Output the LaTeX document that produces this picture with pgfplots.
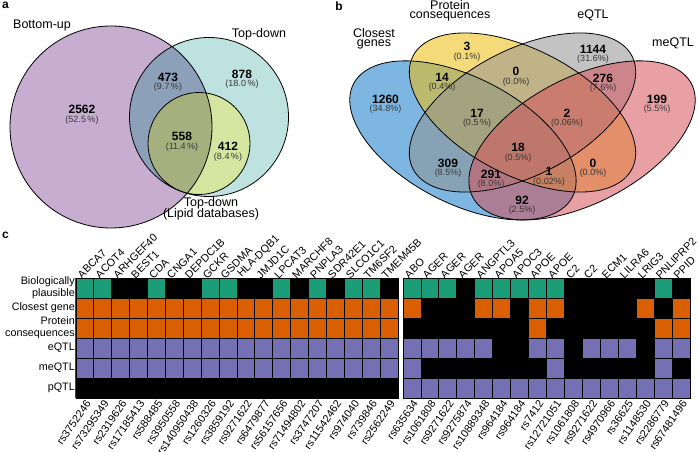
\documentclass[border=0pt]{standalone}
\usepackage{fontspec}
\setmainfont{Liberation Sans}
\usepackage{pgfplots}
\pgfplotsset{compat=1.18}
\definecolor{vpurple}{RGB}{199,173,207}
\definecolor{vteal}{RGB}{190,226,224}
\definecolor{vpt}{RGB}{140,160,186}
\definecolor{vlipid}{RGB}{213,230,160}
\definecolor{volive}{RGB}{166,176,126}
\definecolor{vblue}{RGB}{19,122,199}
\definecolor{vyellow}{RGB}{237,188,13}
\definecolor{vgray}{RGB}{146,146,146}
\definecolor{vred}{RGB}{213,82,91}
\definecolor{pcttext}{RGB}{55,55,55}
\definecolor{hmgreen}{RGB}{27,158,119}
\definecolor{hmorange}{RGB}{217,95,2}
\definecolor{hmpurple}{RGB}{117,112,179}
\newcommand\lblfont{\fontsize{12.5}{14}\selectfont}
\newcommand\numfont{\bfseries\fontsize{12}{13}\selectfont}
\newcommand\pctfont{\fontsize{9}{10}\selectfont}
\newcommand\hmfont{\fontsize{10.8}{12}\selectfont}
\newcommand\vn[4]{\node[font=\numfont] at (#1,#2) {#3};\node[font=\pctfont,text=pcttext] at (#1,#2-10.5) {(#4)};}
\newcommand\vb[4]{\node[font=\numfont] at (#1,#2) {#3};\node[font=\pctfont,text=pcttext] at (#1,#2-10.3) {(#4)};}
\begin{document}
\begin{tikzpicture}[x=1pt,y=1pt]
\path[use as bounding box] (0,0) rectangle (699,452);
% ---------------- Venn a
\fill[vpurple] (111,325) circle (101pt);
\fill[vteal] (209,335) circle (79.5pt);
\begin{scope}
\clip (111,325) circle (101pt);
\fill[vpt] (209,335) circle (79.5pt);
\end{scope}
\fill[vlipid] (199,308.5) circle (51pt);
\begin{scope}
\clip (111,325) circle (101pt);
\fill[volive] (199,308.5) circle (51pt);
\end{scope}
\draw[line width=0.8pt] (111,325) circle (101pt) (209,335) circle (79.5pt) (199,308.5) circle (51pt);
\node[font=\bfseries\fontsize{12}{13}\selectfont, anchor=north west, inner sep=0pt] at (2,450) {a};
\node[font=\lblfont] at (42,426) {Bottom-up};
\node[font=\lblfont] at (259,417.5) {Top-down};
\node[font=\lblfont] at (211,248.7) {Top-down};
\node[font=\lblfont] at (211,237.7) {(Lipid databases)};
\vn{168}{375}{473}{9.7\,\%}
\vn{242}{378}{878}{18.0\,\%}
\vn{82}{342.7}{2562}{52.5\,\%}
\vn{182}{315.3}{558}{11.4\,\%}
\vn{228}{305.3}{412}{8.4\,\%}
% ---------------- Venn b
\begin{scope}[fill opacity=0.55]
\fill[vblue, shift={(462.95,311.6)}, xscale=3.97, yscale=2.79, rotate=-45] (0,0) ellipse (35pt and 20pt);
\fill[vyellow, shift={(522.5,339.5)}, xscale=3.97, yscale=2.79, rotate=-45] (0,0) ellipse (35pt and 20pt);
\fill[vgray, shift={(522.5,339.5)}, xscale=3.97, yscale=2.79, rotate=45] (0,0) ellipse (35pt and 20pt);
\fill[vred, shift={(582.05,311.6)}, xscale=3.97, yscale=2.79, rotate=45] (0,0) ellipse (35pt and 20pt);
\end{scope}
\draw[line width=0.8pt, shift={(462.95,311.6)}, xscale=3.97, yscale=2.79, rotate=-45] (0,0) ellipse (35pt and 20pt);
\draw[line width=0.8pt, shift={(522.5,339.5)}, xscale=3.97, yscale=2.79, rotate=-45] (0,0) ellipse (35pt and 20pt);
\draw[line width=0.8pt, shift={(522.5,339.5)}, xscale=3.97, yscale=2.79, rotate=45] (0,0) ellipse (35pt and 20pt);
\draw[line width=0.8pt, shift={(582.05,311.6)}, xscale=3.97, yscale=2.79, rotate=45] (0,0) ellipse (35pt and 20pt);
\node[font=\bfseries\fontsize{12}{13}\selectfont] at (339,446) {b};
\node[font=\lblfont] at (374,419) {Closest};
\node[font=\lblfont] at (374,408) {genes};
\node[font=\lblfont] at (450,447) {Protein};
\node[font=\lblfont] at (450,436) {consequences};
\node[font=\lblfont] at (593,437) {eQTL};
\node[font=\lblfont] at (673,408.7) {meQTL};
\vb{467}{405.3}{3}{0.1\%}
\vb{593}{402.7}{1144}{31.6\%}
\vb{442}{374.7}{14}{0.4\%}
\vb{516}{380.3}{0}{0.0\%}
\vb{603}{373.7}{276}{7.6\%}
\vb{385.5}{352.7}{1260}{34.8\%}
\vb{657}{352.7}{199}{5.5\%}
\vb{477}{338.7}{17}{0.5\,\%}
\vb{567}{338.7}{2}{0.06\%}
\vb{518}{304.3}{18}{0.5\%}
\vb{448}{288.7}{309}{8.5\%}
\vb{491}{278}{291}{8.0\%}
\vb{549}{280.3}{1}{0.02\%}
\vb{593}{288.7}{0}{0.0\%}
\vb{522}{252}{92}{2.5\%}
% ---------------- c
\node[font=\bfseries\fontsize{12}{13}\selectfont, anchor=north west, inner sep=0pt] at (2,220) {c};
\pgfplotsset{
  hmbase/.style={
    at={(#1)}, anchor=south west, scale only axis, height=120pt,
    ymin=-0.5, ymax=5.5, y dir=reverse, enlargelimits=false,
    major tick length=0pt, minor tick length=0pt,
    tick label style={font=\hmfont},
  },
  hmgrid/.style={
    axis background/.style={fill=black},
    axis on top, axis line style={black!75, line width=1pt},
    xticklabel style={rotate=55, anchor=north east, inner sep=1pt},
  },
  hmtop/.style={
    xticklabel pos=upper, ytick=\empty, axis line style={draw=none},
    xticklabel style={rotate=45, anchor=south west, inner sep=1pt, xshift=-4pt},
  },
  hmcells/.style={
    scatter, only marks, scatter src=explicit symbolic,
    mark=square*, mark size=8.95pt,
    mark options={yscale=1.1173, line width=0.8pt},
    scatter/classes={
      0={mark=square*, fill=black, draw=black},
      1={mark=square*, fill=hmgreen, draw=black},
      2={mark=square*, fill=hmorange, draw=black},
      3={mark=square*, fill=hmpurple, draw=black}},
  },
}
% left block
\begin{axis}[hmbase={76pt,54pt}, hmgrid, width=322pt,
  xmin=-0.5, xmax=17.5,
  xtick={0,...,17},
  xticklabels={rs3752246,rs73295349,rs2319626,rs17185413,rs588485,rs3950558,rs140950438,rs1260326,rs3859192,rs9271622,rs6479877,rs56157656,rs71494802,rs3747207,rs11542462,rs974040,rs739846,rs2562249},
  ytick={0,...,5},
  yticklabels={{Biologically\\plausible},{Closest gene},{Protein\\consequences},eQTL,meQTL,pQTL},
  yticklabel style={align=right, inner sep=1pt},
  ]
\addplot[hmcells] table[meta=c, row sep=\\] {
x y c\\
0 0 1\\ 1 0 1\\ 2 0 0\\ 3 0 0\\ 4 0 1\\ 5 0 0\\ 6 0 0\\ 7 0 1\\ 8 0 1\\ 9 0 0\\ 10 0 0\\ 11 0 1\\ 12 0 0\\ 13 0 1\\ 14 0 0\\ 15 0 1\\ 16 0 1\\ 17 0 0\\
0 1 2\\ 1 1 2\\ 2 1 2\\ 3 1 2\\ 4 1 2\\ 5 1 2\\ 6 1 2\\ 7 1 2\\ 8 1 2\\ 9 1 2\\ 10 1 2\\ 11 1 2\\ 12 1 2\\ 13 1 2\\ 14 1 2\\ 15 1 2\\ 16 1 2\\ 17 1 2\\
0 2 2\\ 1 2 2\\ 2 2 2\\ 3 2 2\\ 4 2 2\\ 5 2 2\\ 6 2 2\\ 7 2 2\\ 8 2 2\\ 9 2 2\\ 10 2 2\\ 11 2 2\\ 12 2 2\\ 13 2 2\\ 14 2 2\\ 15 2 2\\ 16 2 2\\ 17 2 2\\
0 3 3\\ 1 3 3\\ 2 3 3\\ 3 3 3\\ 4 3 3\\ 5 3 3\\ 6 3 3\\ 7 3 3\\ 8 3 3\\ 9 3 3\\ 10 3 3\\ 11 3 3\\ 12 3 3\\ 13 3 3\\ 14 3 3\\ 15 3 3\\ 16 3 3\\ 17 3 3\\
0 4 3\\ 1 4 3\\ 2 4 3\\ 3 4 3\\ 4 4 3\\ 5 4 3\\ 6 4 3\\ 7 4 3\\ 8 4 3\\ 9 4 3\\ 10 4 3\\ 11 4 3\\ 12 4 3\\ 13 4 3\\ 14 4 3\\ 15 4 3\\ 16 4 3\\ 17 4 3\\
0 5 0\\ 1 5 0\\ 2 5 0\\ 3 5 0\\ 4 5 0\\ 5 5 0\\ 6 5 0\\ 7 5 0\\ 8 5 0\\ 9 5 0\\ 10 5 0\\ 11 5 0\\ 12 5 0\\ 13 5 0\\ 14 5 0\\ 15 5 0\\ 16 5 0\\ 17 5 0\\
};
\end{axis}
\begin{axis}[hmbase={76pt,54pt}, hmtop, width=322pt,
  xmin=-0.5, xmax=17.5,
  xtick={0,...,17},
  xticklabels={ABCA7,ACOT4,ARHGEF40,BEST1,CDA,CNGA1,DEPDC1B,GCKR,GSDMA,HLA-DQB1,JMJD1C,LPCAT3,MARCHF8,PNPLA3,SDR42E1,SLCO1C1,TM6SF2,TMEM45B},
  ]
\end{axis}
% right block
\begin{axis}[hmbase={403pt,54pt}, hmgrid, width=287pt,
  xmin=-0.5, xmax=15.5,
  xtick={0,...,15},
  xticklabels={rs635634,rs1061808,rs9271622,rs9275874,rs10889348,rs964184,rs964184,rs7412,rs12721051,rs1061808,rs9271622,rs4970966,rs36625,rs1148530,rs2286779,rs67481496},
  ytick=\empty,
  ]
\addplot[hmcells] table[meta=c, row sep=\\] {
x y c\\
0 0 1\\ 1 0 1\\ 2 0 1\\ 3 0 0\\ 4 0 1\\ 5 0 1\\ 6 0 1\\ 7 0 1\\ 8 0 1\\ 9 0 0\\ 10 0 0\\ 11 0 0\\ 12 0 0\\ 13 0 0\\ 14 0 1\\ 15 0 0\\
0 1 2\\ 1 1 0\\ 2 1 0\\ 3 1 0\\ 4 1 2\\ 5 1 2\\ 6 1 0\\ 7 1 2\\ 8 1 2\\ 9 1 0\\ 10 1 0\\ 11 1 0\\ 12 1 0\\ 13 1 2\\ 14 1 0\\ 15 1 2\\
0 2 0\\ 1 2 0\\ 2 2 0\\ 3 2 0\\ 4 2 0\\ 5 2 0\\ 6 2 0\\ 7 2 2\\ 8 2 0\\ 9 2 0\\ 10 2 0\\ 11 2 0\\ 12 2 0\\ 13 2 0\\ 14 2 2\\ 15 2 2\\
0 3 3\\ 1 3 3\\ 2 3 3\\ 3 3 3\\ 4 3 3\\ 5 3 0\\ 6 3 0\\ 7 3 3\\ 8 3 3\\ 9 3 0\\ 10 3 3\\ 11 3 3\\ 12 3 3\\ 13 3 0\\ 14 3 3\\ 15 3 3\\
0 4 3\\ 1 4 0\\ 2 4 0\\ 3 4 0\\ 4 4 0\\ 5 4 0\\ 6 4 0\\ 7 4 0\\ 8 4 3\\ 9 4 0\\ 10 4 0\\ 11 4 0\\ 12 4 0\\ 13 4 0\\ 14 4 3\\ 15 4 0\\
0 5 3\\ 1 5 3\\ 2 5 3\\ 3 5 3\\ 4 5 3\\ 5 5 3\\ 6 5 3\\ 7 5 3\\ 8 5 3\\ 9 5 3\\ 10 5 3\\ 11 5 3\\ 12 5 3\\ 13 5 3\\ 14 5 3\\ 15 5 3\\
};
\end{axis}
\begin{axis}[hmbase={403pt,54pt}, hmtop, width=287pt,
  xmin=-0.5, xmax=15.5,
  xtick={0,...,15},
  xticklabels={ABO,AGER,AGER,AGER,ANGPTL3,APOA5,APOC3,APOE,APOE,C2,C2,ECM1,LILRA6,LRIG3,PNLIPRP2,PPID},
  ]
\end{axis}
\end{tikzpicture}
\end{document}
